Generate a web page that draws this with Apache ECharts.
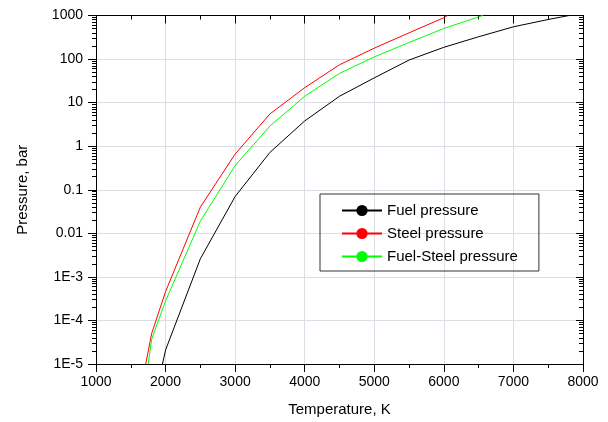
<!DOCTYPE html>
<html>
<head>
<meta charset="utf-8">
<script src="https://cdn.jsdelivr.net/npm/echarts@6/dist/echarts.min.js"></script>
<style>html,body{margin:0;padding:0;background:#fff}#c{width:608px;height:422px}</style>
</head>
<body>
<div id="c"></div>
<script>
// Fuel pressure (black)
const fuelT = [1955, 2000, 2500, 3000, 3500, 4000, 4500, 5000, 5500, 6000, 6500, 7000, 7500, 7800];
const fuelP = [1e-5, 2.1e-5, 2.6e-3, 0.07, 0.72, 3.8, 14, 37, 95, 186, 325, 550, 810, 1000];
// Steel pressure (red)
const steelT = [1715, 1800, 2000, 2500, 3000, 3500, 4000, 4500, 5000, 5500, 6000, 6050];
const steelP = [1e-5, 5e-5, 4.6e-4, 0.04, 0.66, 5.5, 22, 74, 178, 400, 890, 1000];
// Fuel-Steel pressure (green)
const fsT = [1750, 1800, 2000, 2500, 3000, 3500, 4000, 4500, 5000, 5500, 6000, 6500, 6560];
const fsP = [1e-5, 3.7e-5, 2.8e-4, 0.019, 0.36, 2.9, 14, 47, 112, 240, 505, 930, 1000];

const seriesNames = ['Fuel pressure', 'Steel pressure', 'Fuel-Steel pressure'];
const seriesColors = ['#000000', '#ff0000', '#00ff00'];
const yTickLabels = ['1E-5', '1E-4', '1E-3', '0.01', '0.1', '1', '10', '100', '1000'];
const xTickLabels = ['1000', '2000', '3000', '4000', '5000', '6000', '7000', '8000'];

const FONT = 'Arial';
const zip = (a, b) => a.map((v, i) => [v, b[i]]);

const chart = echarts.init(document.getElementById('c'));
chart.setOption({
  animation: false,
  grid: {left: 96, right: 25, top: 15.5, bottom: 54},
  legend: {
    orient: 'vertical', left: 320, top: 194,
    padding: [9, 21, 7, 21],
    itemWidth: 40, itemHeight: 14, itemGap: 8,
    borderColor: '#333', borderWidth: 1,
    textStyle: {fontSize: 15, color: '#000'},
    data: seriesNames
  },
  xAxis: [{
    type: 'value', min: 1000, max: 8000, interval: 1000,
    name: 'Temperature, K', nameLocation: 'middle', nameGap: 38,
    nameTextStyle: {fontSize: 15, color: '#000'},
    axisLine: {show: true, lineStyle: {color: '#000'}},
    axisTick: {show: true, length: 8},
    minorTick: {show: true, splitNumber: 2, length: 4},
    axisLabel: {fontSize: 14, color: '#000', margin: 11,
      formatter: v => xTickLabels[Math.round((v - 1000) / 1000)] || ''},
  }, {
    type: 'value', position: 'top', min: 1000, max: 8000, interval: 1000,
    axisLine: {show: true, lineStyle: {color: '#000'}},
    axisTick: {show: true, inside: true, length: 8},
    minorTick: {show: true, splitNumber: 2, length: 4},
    axisLabel: {show: false}
  }],
  yAxis: [{
    type: 'log', min: 1e-5, max: 1000,
    name: 'Pressure, bar', nameLocation: 'middle', nameGap: 66,
    nameTextStyle: {fontSize: 15, color: '#000', fontFamily: FONT},
    axisLine: {show: true, lineStyle: {color: '#000'}},
    axisTick: {show: true, length: 8},
    minorTick: {show: true, splitNumber: 9, length: 4},
    axisLabel: {fontSize: 14, color: '#000', margin: 13, fontFamily: FONT,
      formatter: v => yTickLabels[Math.round(Math.log10(v)) + 5] || ''},
    splitLine: {show: false}
  }, {
    type: 'log', min: 1e-5, max: 1000, position: 'right',
    axisLine: {show: true, lineStyle: {color: '#000'}},
    axisTick: {show: true, inside: true, length: 7},
    minorTick: {show: true, splitNumber: 9, length: 4},
    axisLabel: {show: false}
  }],
  series: [
    {name: seriesNames[0], type: 'line', data: zip(fuelT, fuelP), symbol: 'none', color: seriesColors[0],
      lineStyle: {color: seriesColors[0], width: 1}},
    {name: seriesNames[1], type: 'line', data: zip(steelT, steelP), symbol: 'none', color: seriesColors[1],
      lineStyle: {color: seriesColors[1], width: 1}},
    {name: seriesNames[2], type: 'line', data: zip(fsT, fsP), symbol: 'none', color: seriesColors[2],
      lineStyle: {color: seriesColors[2], width: 1}}
  ]
});
</script>
</body>
</html>
